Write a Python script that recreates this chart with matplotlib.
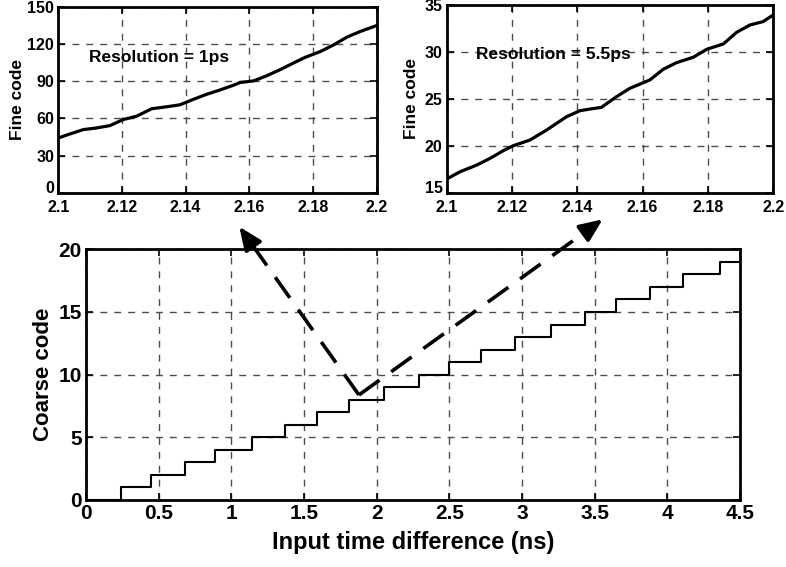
import matplotlib
matplotlib.use("Agg")
import matplotlib.pyplot as plt
from matplotlib import font_manager
import numpy as np

# ---- data -------------------------------------------------------------
# coarse counter: time difference (ns) at which each code step occurs
coarse_edges = [0.24, 0.45, 0.68, 0.89, 1.145, 1.37, 1.59, 1.81, 2.05, 2.29,
                2.50, 2.72, 2.95, 3.20, 3.43, 3.65, 3.88, 4.11, 4.36]
coarse_codes = list(range(0, 20))
coarse_xmax = 4.5

# fine code, 1 ps resolution
fine1_t = [2.1, 2.1037, 2.1079, 2.112, 2.1162, 2.1204, 2.1246, 2.1293, 2.134,
           2.1382, 2.1424, 2.1466, 2.1508, 2.155, 2.1571, 2.1613, 2.1654,
           2.1696, 2.1738, 2.1775, 2.1822, 2.1864, 2.1906, 2.1948, 2.2]
fine1_code = [44.2, 47.5, 51.0, 52.3, 54.2, 59.1, 61.8, 67.8, 69.4, 71.0, 75.4,
              79.5, 83.0, 86.8, 89.0, 90.3, 94.4, 99.3, 104.7, 109.3, 113.9,
              119.3, 125.6, 130.2, 135.0]

# fine code, 5.5 ps resolution
fine55_t = [2.1, 2.1041, 2.1092, 2.1133, 2.1173, 2.1204, 2.1255, 2.1306, 2.1367,
            2.1408, 2.1439, 2.1474, 2.152, 2.1561, 2.1602, 2.1622, 2.1663,
            2.1704, 2.1755, 2.1796, 2.1847, 2.1888, 2.1929, 2.1969, 2.2]
fine55_code = [16.46, 17.24, 17.95, 18.67, 19.48, 20.02, 20.62, 21.69, 23.11,
               23.75, 23.93, 24.11, 25.25, 26.14, 26.74, 27.03, 28.17, 28.88,
               29.45, 30.3, 30.87, 32.12, 32.9, 33.26, 33.97]

main_xticks = [0, 0.5, 1, 1.5, 2, 2.5, 3, 3.5, 4, 4.5]
main_xticklabels = ["0", "0.5", "1", "1.5", "2", "2.5", "3", "3.5", "4", "4.5"]
main_yticks = [0, 5, 10, 15, 20]
inset_xticks = [2.1, 2.12, 2.14, 2.16, 2.18, 2.2]
inset_xticklabels = ["2.1", "2.12", "2.14", "2.16", "2.18", "2.2"]
inset1_yticks = [0, 30, 60, 90, 120, 150]
inset2_yticks = [15, 20, 25, 30, 35]

# ---- fonts ------------------------------------------------------------
names = {f.name for f in font_manager.fontManager.ttflist}
wide = "Liberation Sans" if "Liberation Sans" in names else "DejaVu Sans"
narrow = "Liberation Sans Narrow" if "Liberation Sans Narrow" in names else wide
plt.rcParams["font.family"] = [wide, "DejaVu Sans"]
plt.rcParams["font.weight"] = "bold"

fig = plt.figure(figsize=(7.86, 5.67), dpi=100)


def style_axes(ax, tick_font, tick_size, pad=3):
    for s in ax.spines.values():
        s.set_linewidth(2.0)
    ax.tick_params(direction="in", top=True, right=True, length=5, width=1.2,
                   labelsize=tick_size, pad=pad)
    for lab in ax.get_xticklabels() + ax.get_yticklabels():
        lab.set_fontfamily(tick_font)
        lab.set_fontweight("bold")
    ax.grid(True, linestyle=(0, (5, 5)), color="0.3", linewidth=1.0)
    ax.set_axisbelow(True)


# ---- main: coarse code staircase ---------------------------------------
ax = fig.add_axes([0.1094, 0.1182, 0.8321, 0.4421])
xs = [0] + coarse_edges + [coarse_xmax]
ys = coarse_codes + [coarse_codes[-1]]
ax.step(xs, ys, where="post", color="k", lw=1.5)
ax.set_xlim(0, 4.5)
ax.set_ylim(0, 20)
ax.set_xticks(main_xticks)
ax.set_xticklabels(main_xticklabels)
ax.set_yticks(main_yticks)
style_axes(ax, narrow, 15)
ax.set_xlabel("Input time difference (ns)", fontfamily=narrow,
              fontweight="bold", fontsize=17, labelpad=6)
ax.set_ylabel("Coarse code", fontfamily=wide, fontweight="bold",
              fontsize=16, labelpad=3)

# ---- inset: 1 ps resolution --------------------------------------------
ax1 = fig.add_axes([0.0742, 0.6601, 0.4051, 0.3276])
ax1.plot(fine1_t, fine1_code, color="k", lw=2.3)
ax1.set_xlim(2.1, 2.2)
ax1.set_ylim(0, 150)
ax1.set_xticks(inset_xticks)
ax1.set_xticklabels(inset_xticklabels)
ax1.set_yticks(inset1_yticks)
style_axes(ax1, wide, 11.5)
ax1.tick_params(axis="x", pad=5)
ax1.set_ylabel("Fine code", fontsize=12.5, fontweight="bold", labelpad=2)
ax1.text(0.095, 0.73, "Resolution = 1ps", transform=ax1.transAxes,
         fontsize=12.5, fontweight="bold", va="center", ha="left")

# ---- inset: 5.5 ps resolution ------------------------------------------
ax2 = fig.add_axes([0.5683, 0.6601, 0.4155, 0.3306])
ax2.plot(fine55_t, fine55_code, color="k", lw=2.3)
ax2.set_xlim(2.1, 2.2)
ax2.set_ylim(15, 35)
ax2.set_xticks(inset_xticks)
ax2.set_xticklabels(inset_xticklabels)
ax2.set_yticks(inset2_yticks)
style_axes(ax2, wide, 11.5)
ax2.tick_params(axis="x", pad=5)
ax2.set_ylabel("Fine code", fontsize=12.5, fontweight="bold", labelpad=4)
ax2.text(0.09, 0.735, "Resolution = 5.5ps", transform=ax2.transAxes,
         fontsize=12.5, fontweight="bold", va="center", ha="left")

# lowest y label of each inset rests on the x axis line
for a in (ax1, ax2):
    a.get_yticklabels()[0].set_verticalalignment("baseline")

# ---- dashed pointer arrows from the staircase to the insets ------------
vertex = (1.878, 8.38)
tips = [(1.055, 21.80), (3.555, 22.39)]
to_px = ax.transData.transform
from_px = ax.transData.inverted().transform
for tip in tips:
    v_px = np.array(to_px(vertex))
    t_px = np.array(to_px(tip))
    d = t_px - v_px
    u = d / np.hypot(*d)
    base = from_px(t_px - u * 24)
    ax.plot([vertex[0], base[0]], [vertex[1], base[1]], color="k", lw=2.6,
            linestyle=(0, (7, 4)), clip_on=False, solid_capstyle="butt",
            dash_capstyle="butt")
    ax.annotate("", xy=tip, xytext=base, xycoords="data", textcoords="data",
                annotation_clip=False,
                arrowprops=dict(arrowstyle="-|>,head_length=0.7,head_width=0.3",
                                mutation_scale=20, lw=2.6, color="k",
                                shrinkA=0, shrinkB=0))

fig.savefig("out.png", dpi=100)
